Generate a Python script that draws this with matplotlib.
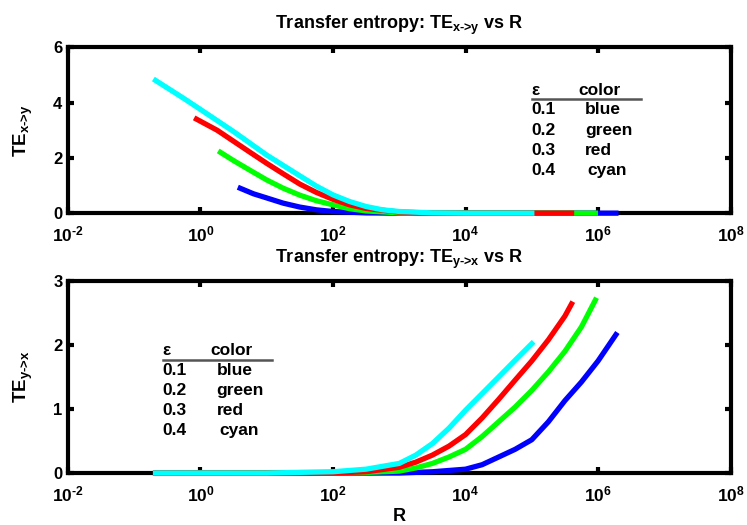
import numpy as np
import matplotlib
matplotlib.use('Agg')
import matplotlib.pyplot as plt
from matplotlib import rcParams

rcParams['font.family'] = 'Liberation Sans'
rcParams['font.weight'] = 'bold'
rcParams['axes.titleweight'] = 'bold'
rcParams['axes.labelweight'] = 'bold'
rcParams['mathtext.fontset'] = 'custom'
rcParams['mathtext.rm'] = 'Liberation Sans:bold'
rcParams['mathtext.it'] = 'Liberation Sans:bold'
rcParams['mathtext.bf'] = 'Liberation Sans:bold'
rcParams['mathtext.default'] = 'rm'

# legend table rows
eps_vals = ['0.1', '0.2', '0.3', '0.4']
color_names = ['blue', 'green', 'red', 'cyan']
line_colors = ['#0000ff', '#00ff00', '#ff0000', '#00ffff']

xtick_exp = [-2, 0, 2, 4, 6, 8]

# TE x->y (top panel)
R_xy = {
    'blue':  [3.98, 6.3, 10, 17.8, 31.6, 56, 100, 316, 1000, 1.86e6],
    'green': [2.0, 3.16, 5.6, 10, 17.8, 31.6, 56, 100, 178, 316, 1000, 9.1e5],
    'red':   [0.87, 1.78, 3.16, 5.6, 10, 17.8, 31.6, 56, 100, 178, 316, 1000, 3162, 3.98e5],
    'cyan':  [0.21, 0.56, 1, 3.16, 10, 31.6, 56, 100, 178, 316, 562, 1000, 3162, 1e4, 1e5],
}
TE_xy = {
    'blue':  [0.9, 0.7, 0.55, 0.36, 0.22, 0.12, 0.06, 0.01, 0.0, 0.0],
    'green': [2.2, 1.9, 1.55, 1.2, 0.9, 0.65, 0.45, 0.3, 0.16, 0.08, 0.01, 0.0],
    'red':   [3.4, 3.0, 2.6, 2.2, 1.8, 1.42, 1.05, 0.75, 0.5, 0.3, 0.17, 0.04, 0.0, 0.0],
    'cyan':  [4.8, 4.15, 3.75, 2.95, 2.1, 1.35, 0.98, 0.66, 0.42, 0.24, 0.12, 0.06, 0.01, 0.0, 0.0],
}

# TE y->x (bottom panel)
R_yx = {
    'blue':  [0.21, 1000, 3162, 1e4, 1.78e4, 3.16e4, 5.6e4, 1e5, 1.78e5, 3.16e5, 5.6e5, 1e6, 1.86e6],
    'green': [0.21, 316, 1000, 1778, 3162, 5623, 1e4, 1.78e4, 3.16e4, 5.6e4, 1e5, 1.78e5, 3.16e5, 5.6e5, 9.1e5],
    'red':   [0.21, 100, 316, 1000, 1778, 3162, 5623, 1e4, 1.78e4, 3.16e4, 5.6e4, 1e5, 1.78e5, 3.16e5, 3.98e5],
    'cyan':  [0.21, 1, 10, 100, 316, 1000, 1778, 3162, 5623, 1e4, 1.78e4, 3.16e4, 5.6e4, 1e5],
}
TE_yx = {
    'blue':  [0.0, 0.0, 0.02, 0.06, 0.13, 0.25, 0.37, 0.52, 0.8, 1.13, 1.42, 1.75, 2.16],
    'green': [0.0, 0.01, 0.03, 0.08, 0.15, 0.25, 0.37, 0.57, 0.8, 1.03, 1.29, 1.58, 1.9, 2.28, 2.7],
    'red':   [0.0, 0.0, 0.02, 0.09, 0.17, 0.28, 0.42, 0.6, 0.86, 1.15, 1.45, 1.75, 2.08, 2.45, 2.64],
    'cyan':  [0.0, 0.0, 0.0, 0.02, 0.06, 0.15, 0.28, 0.46, 0.7, 0.98, 1.24, 1.5, 1.76, 2.02],
}

fig = plt.figure(figsize=(7.47, 5.25), dpi=100)
ax1 = fig.add_axes([0.091, 0.594, 0.887, 0.316])
ax2 = fig.add_axes([0.091, 0.099, 0.887, 0.366])


def style(ax, ymax, yticks):
    ax.set_xscale('log')
    ax.set_xlim(1e-2, 1e8)
    ax.set_ylim(0, ymax)
    ax.set_xticks([10.0 ** e for e in xtick_exp])
    ax.set_xticklabels([r'$10^{\text{%d}}$' % e for e in xtick_exp])
    ax.minorticks_off()
    ax.set_yticks(yticks)
    ax.tick_params(direction='in', length=4, width=3, top=True, right=True,
                   labelsize=12.5)
    ax.tick_params(axis='x', pad=8)
    ax.tick_params(axis='y', pad=4, labelsize=12)
    for s in ax.spines.values():
        s.set_linewidth(3)


def table(ax, x0, x1, xname, ytop, ys):
    kw = dict(transform=ax.transAxes, fontsize=12.5, va='center', weight='bold')
    ax.text(x0, ytop, '\u03b5', **kw)
    ax.text(x1, ytop, 'color', **kw)
    ax.plot([x0, x0 + 0.165], [ytop - 0.05, ytop - 0.05], color='#555555',
            lw=1.8, transform=ax.transAxes)
    for e, n, y in zip(eps_vals, color_names, ys):
        ax.text(x0, y, e, **kw)
        ax.text(xname + (0.004 if n == 'cyan' else 0), y, n, **kw)


for name, c in zip(color_names, line_colors):
    ax1.plot(R_xy[name], TE_xy[name], color=c, lw=3.8, clip_on=False, zorder=3)
    ax2.plot(R_yx[name], TE_yx[name], color=c, lw=3.8, clip_on=False, zorder=3)

style(ax1, 6, [0, 2, 4, 6])
style(ax2, 3, [0, 1, 2, 3])

ax1.set_title(r'Transfer entropy: TE$_{\text{x->y}}$ vs R', fontsize=13, pad=13)
ax2.set_title(r'Transfer entropy: TE$_{\text{y->x}}$ vs R', fontsize=13, pad=13)
ax1.set_ylabel(r'TE$_{\text{x->y}}$', fontsize=13.5, labelpad=13)
ax2.set_ylabel(r'TE$_{\text{y->x}}$', fontsize=13.5, labelpad=13)
ax2.set_xlabel('R', fontsize=13, labelpad=3)

table(ax1, 0.70, 0.771, 0.78, 0.741, [0.627, 0.50, 0.38, 0.26])
table(ax2, 0.143, 0.215, 0.224, 0.637, [0.534, 0.43, 0.326, 0.223])

fig.savefig('out.png', dpi=100)
